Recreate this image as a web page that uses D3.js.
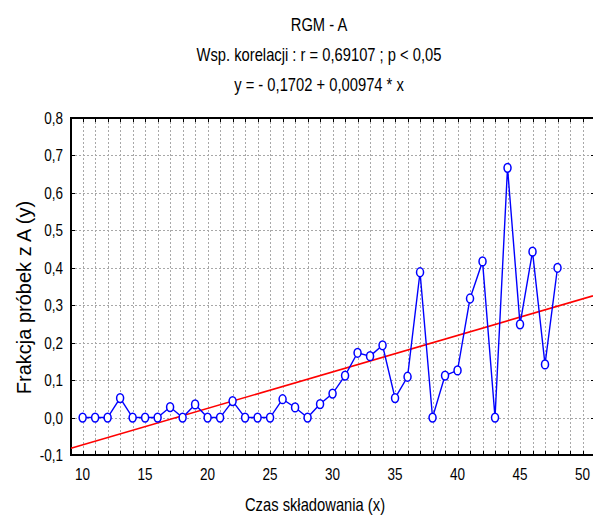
<!DOCTYPE html>
<html>
<head>
<meta charset="utf-8">
<script src="https://cdn.jsdelivr.net/npm/d3@7"></script>
<style>
  body { margin: 0; background: #fff; }
  text { font-family: "Liberation Sans", Arial, sans-serif; fill: #000; }
</style>
</head>
<body>
<div id="chart"></div>
<script>
// data
const czas = [10, 11, 12, 13, 14, 15, 16, 17, 18, 19, 20, 21, 22, 23, 24, 25, 26, 27, 28, 29,
              30, 31, 32, 33, 34, 35, 36, 37, 38, 39, 40, 41, 42, 43, 44, 45, 46, 47, 48];
const frakcja = [0, 0, 0, 0.052, 0, 0, 0, 0.028, 0, 0.035, 0, 0, 0.044, 0, 0, 0, 0.049, 0.027, 0, 0.036,
                 0.064, 0.112, 0.173, 0.164, 0.193, 0.052, 0.109, 0.388, 0, 0.112, 0.126, 0.318, 0.417, 0, 0.667, 0.249, 0.443, 0.142, 0.400];
const xTicks = [10, 15, 20, 25, 30, 35, 40, 45, 50];
const yTicks = [-0.1, 0, 0.1, 0.2, 0.3, 0.4, 0.5, 0.6, 0.7, 0.8];
const titleLines = ["RGM - A", "Wsp. korelacji : r = 0,69107 ; p < 0,05", "y = - 0,1702 + 0,00974 * x"];
const intercept = -0.1702,
      slope = 0.00974;

const width = 593,
      height = 518,
      margin = { top: 118, right: 0, bottom: 63, left: 71 },
      squeeze = 0.82;   // no Arial Narrow here, so squash Liberation Sans

const svg = d3.select("#chart").append("svg")
    .attr("width", width)
    .attr("height", height);

const x = d3.scaleLinear()
    .domain([9.07, 50.84])
    .range([margin.left, width - margin.right]);

const y = d3.scaleLinear()
    .domain([-0.1, 0.8])
    .range([height - margin.bottom, margin.top]);

const fmt = v => d3.format(".1f")(v).replace(".", ",").replace("−", "-");
const narrow = (px, py) => `translate(${px},${py}) scale(${squeeze},1)`;

// grid
const grid = svg.append("g")
    .attr("stroke", "#a8a8a8")
    .attr("stroke-width", 1)
    .attr("stroke-dasharray", "2,2");

grid.selectAll(".vg")
    .data(d3.range(10, 51))
    .enter().append("line")
    .attr("x1", d => Math.round(x(d)) + 0.5)
    .attr("x2", d => Math.round(x(d)) + 0.5)
    .attr("y1", y(0.8))
    .attr("y2", y(-0.1));

grid.selectAll(".hg")
    .data(yTicks.slice(1, -1))
    .enter().append("line")
    .attr("x1", x.range()[0])
    .attr("x2", x.range()[1])
    .attr("y1", d => Math.round(y(d)) + 0.5)
    .attr("y2", d => Math.round(y(d)) + 0.5);

// ticks, pointing inwards
const ticks = svg.append("g").attr("stroke", "#000").attr("stroke-width", 1);

d3.range(10, 51).forEach(function(d) {
    const px = Math.round(x(d)) + 0.5;
    ticks.append("line").attr("x1", px).attr("x2", px)
        .attr("y1", y(0.8)).attr("y2", y(0.8) + 4);
    ticks.append("line").attr("x1", px).attr("x2", px)
        .attr("y1", y(-0.1)).attr("y2", y(-0.1) - 4);
});

yTicks.forEach(function(d) {
    const py = Math.round(y(d)) + 0.5;
    ticks.append("line").attr("x1", x.range()[0]).attr("x2", x.range()[0] + 4)
        .attr("y1", py).attr("y2", py);
    ticks.append("line").attr("x1", x.range()[1] - 2).attr("x2", x.range()[1])
        .attr("y1", py).attr("y2", py);
});

// frame (right side falls off the picture)
svg.append("path")
    .attr("d", `M${x.range()[1]},${y(0.8)}H${x.range()[0]}V${y(-0.1)}H${x.range()[1]}`)
    .attr("fill", "none")
    .attr("stroke", "#000")
    .attr("stroke-width", 2);

// tick labels
svg.append("g").selectAll("text")
    .data(xTicks)
    .enter().append("text")
    .attr("transform", d => narrow(x(d), 480))
    .attr("text-anchor", "middle")
    .style("font-size", "16.5px")
    .text(d => d);

svg.append("g").selectAll("text")
    .data(yTicks)
    .enter().append("text")
    .attr("transform", d => narrow(63, y(d) + 6))
    .attr("text-anchor", "end")
    .style("font-size", "16.5px")
    .text(fmt);

// regression line
svg.append("line")
    .attr("x1", x(x.domain()[0]))
    .attr("y1", y(intercept + slope * x.domain()[0]))
    .attr("x2", x(x.domain()[1]))
    .attr("y2", y(intercept + slope * x.domain()[1]))
    .attr("stroke", "#ff0000")
    .attr("stroke-width", 1.6);

// data series
const pts = czas.map((d, i) => [d, frakcja[i]]);

svg.append("path")
    .datum(pts)
    .attr("fill", "none")
    .attr("stroke", "#0000ff")
    .attr("stroke-width", 1.4)
    .attr("d", d3.line().x(d => x(d[0])).y(d => y(d[1])));

svg.append("g").selectAll("ellipse")
    .data(pts)
    .enter().append("ellipse")
    .attr("cx", d => x(d[0]))
    .attr("cy", d => y(d[1]))
    .attr("rx", 3.5)
    .attr("ry", 4.4)
    .attr("fill", "#fff")
    .attr("stroke", "#0000ff")
    .attr("stroke-width", 1.5);

// titles
svg.append("g").selectAll("text")
    .data(titleLines)
    .enter().append("text")
    .attr("transform", (d, i) => narrow(319, 30.5 + i * 30))
    .attr("text-anchor", "middle")
    .style("font-size", "18px")
    .text(d => d);

svg.append("text")
    .attr("transform", narrow(315, 511))
    .attr("text-anchor", "middle")
    .style("font-size", "18px")
    .text("Czas składowania (x)");

svg.append("text")
    .attr("transform", "translate(30.5,297.5) rotate(-90)")
    .attr("text-anchor", "middle")
    .style("font-size", "20px")
    .text("Frakcja próbek z A (y)");
</script>
</body>
</html>
